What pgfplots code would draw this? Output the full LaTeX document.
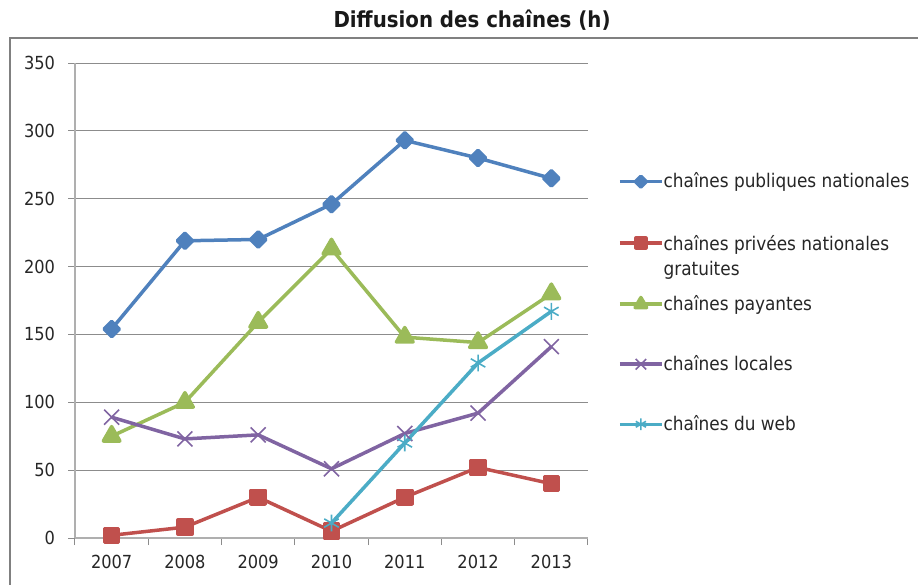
\documentclass[border=0pt]{standalone}
\usepackage{fontspec}
\setmainfont{DejaVu Sans Condensed}
\usepackage{pgfplots}
\pgfplotsset{compat=1.18}

\definecolor{cblue}{RGB}{79,129,189}
\definecolor{cred}{RGB}{192,80,77}
\definecolor{cgreen}{RGB}{155,187,89}
\definecolor{cpurple}{RGB}{128,100,162}
\definecolor{ccyan}{RGB}{75,172,198}
\definecolor{gridc}{RGB}{140,140,140}
\definecolor{axisc}{RGB}{175,175,175}
\definecolor{framec}{RGB}{128,128,128}

\begin{document}
\begin{tikzpicture}[x=1pt,y=1pt]
\begin{axis}[
  at={(37.5pt,23.5pt)}, anchor=south west,
  scale only axis, width=256.5pt, height=237.5pt,
  xmin=2006.5, xmax=2013.5, ymin=0, ymax=350,
  axis lines*=left,
  axis line style={color=axisc, line width=0.6pt},
  ytick={0,50,...,350},
  xtick={2006.5,2007.5,...,2013.5},
  xticklabels={},
  extra x ticks={2007,2008,...,2013},
  extra x tick style={major tick length=0pt},
  tick align=outside,
  major tick length=3.5pt,
  tick style={color=gridc, line width=0.5pt},
  ymajorgrids,
  grid style={color=gridc, line width=0.5pt},
  every tick label/.append style={font=\fontsize{9}{11}\selectfont, text=black!85},
  /pgf/number format/assume math mode=true,
  /pgf/number format/1000 sep={},
  x tick label style={yshift=-5pt},
  y tick label style={xshift=-3pt},
  title={\textbf{Diffusion des chaînes (h)}},
  every axis title shift=0pt,
  title style={at={(0.774,1.0905)}, anchor=center, font=\fontsize{11}{13}\selectfont, text=black!90},
  % smaller markers in the legend, as in the spreadsheet original
  legend image code/.code={\draw[mark repeat=2,mark phase=2, every mark/.append style={scale=0.7}]
    plot coordinates {(0pt,0pt)(10.5pt,0pt)(21pt,0pt)};},
  legend cell align=left,
  legend style={draw=none, fill=none, at={(1.058,0.770)}, anchor=north west,
    font=\fontsize{9.4}{12.5}\selectfont, text=black!85, row sep=21pt, column sep=0pt,
    inner sep=0pt, nodes={inner sep=0pt}},
]
\addplot[color=cblue, line width=1.75pt, line join=round, mark=square*, mark size=2.7pt, mark options={rotate=45}]
  coordinates {(2007,154) (2008,219) (2009,220) (2010,246) (2011,293) (2012,280) (2013,265)};
\addlegendentry{chaînes publiques nationales}
\addplot[color=cred, line width=1.75pt, line join=round, mark=square*, mark size=3.5pt]
  coordinates {(2007,2) (2008,8) (2009,30) (2010,5) (2011,30) (2012,52) (2013,40)};
\addlegendentry{\begin{tabular}[t]{@{}l@{}}chaînes privées nationales\\gratuites\end{tabular}}
\addplot[color=cgreen, line width=1.75pt, line join=round, mark=triangle*, mark size=4.8pt]
  coordinates {(2007,75) (2008,100) (2009,159) (2010,213) (2011,148) (2012,144) (2013,180)};
\addlegendentry{chaînes payantes}
\addplot[color=cpurple, line width=1.75pt, line join=round, mark=x, mark size=5.3pt, mark options={line width=0.8pt}]
  coordinates {(2007,89) (2008,73) (2009,76) (2010,51) (2011,77) (2012,92) (2013,141)};
\addlegendentry{chaînes locales}
\addplot[color=ccyan, line width=1.75pt, line join=round, mark=asterisk, mark size=4.2pt, mark options={line width=0.8pt}]
  coordinates {(2010,11) (2011,70) (2012,129) (2013,167)};
\addlegendentry{chaînes du web}
\end{axis}
\draw[color=framec, line width=1pt] (5pt,-20pt) rectangle (480pt,273.5pt);
\pgfresetboundingbox
\useasboundingbox (0pt,0pt) rectangle (459pt,292.5pt);
\end{tikzpicture}
\end{document}
